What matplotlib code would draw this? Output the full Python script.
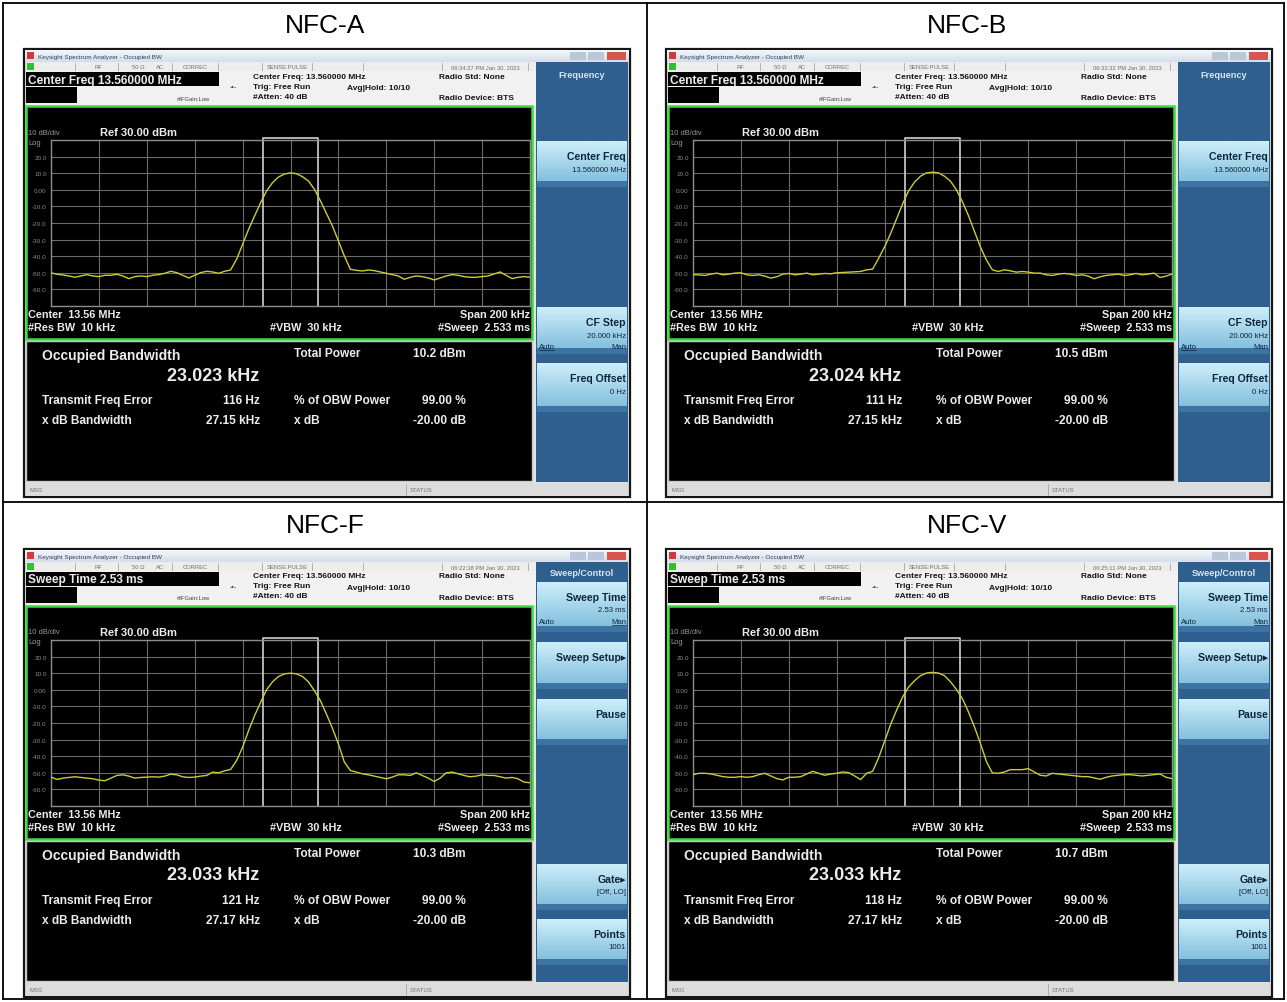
import matplotlib
matplotlib.use("Agg")
import matplotlib.pyplot as plt
from matplotlib.patches import Rectangle
import numpy as np

plt.rcParams["font.family"] = ["Liberation Sans", "DejaVu Sans"]

W, H = 1287, 1003

PANEL_TITLES = ["NFC-A", "NFC-B", "NFC-F", "NFC-V"]
PANEL_ORIGINS = [(24, 50), (666, 50), (24, 550), (666, 550)]  # top-left of each screenshot, px
TIMESTAMPS = ["06:34:27 PM Jan 30, 2023", "06:32:32 PM Jan 30, 2023",
              "06:22:38 PM Jan 30, 2023", "06:25:11 PM Jan 30, 2023"]
ACTIVE_FUNC = ["Center Freq 13.560000 MHz", "Center Freq 13.560000 MHz",
               "Sweep Time 2.53 ms", "Sweep Time 2.53 ms"]
MENUS = ["freq", "freq", "sweep", "sweep"]
TOTAL_POWER_DBM = [10.2, 10.5, 10.3, 10.7]
OBW_KHZ = [23.023, 23.024, 23.033, 23.033]
FREQ_ERROR_HZ = [116, 111, 121, 118]
XDB_BW_KHZ = [27.15, 27.15, 27.17, 27.17]

Y_TICKS_DBM = [30, 20, 10, 0, -10, -20, -30, -40, -50, -60, -70]
Y_TICK_LABELS = ["", "20.0", "10.0", "0.00", "-10.0", "-20.0", "-30.0", "-40.0", "-50.0", "-60.0", ""]
X_TICKS_KHZ = [-100, -80, -60, -40, -20, 0, 20, 40, 60, 80, 100]

# sweep points, offset from 13.56 MHz in kHz
FREQ_KHZ = [-100, -97.5, -95, -92.5, -90, -87.5, -85, -82.5, -80, -77.5,
            -75, -72.5, -70, -67.5, -65, -62.5, -60, -57.5, -55, -52.5,
            -50, -47.5, -45, -42.5, -40, -37.5, -35, -32.5, -30, -27.5,
            -25, -22.5, -20, -17.5, -15, -12.5, -10, -7.5, -5, -2.5,
            0, 2.5, 5, 7.5, 10, 12.5, 15, 17.5, 20, 22.5,
            25, 27.5, 30, 32.5, 35, 37.5, 40, 42.5, 45, 47.5,
            50, 52.5, 55, 57.5, 60, 62.5, 65, 67.5, 70, 72.5,
            75, 77.5, 80, 82.5, 85, 87.5, 90, 92.5, 95, 97.5, 100]

# levels in dBm
TRACE_A = [-50.0, -50.9, -51.3, -51.9, -52.7, -51.9, -51.1, -51.9, -52.3, -51.5,
           -51.5, -50.9, -51.9, -53.5, -52.3, -51.9, -52.3, -51.5, -51.1, -50.3,
           -49.1, -49.9, -51.5, -53.1, -51.5, -49.9, -49.1, -49.5, -50.3, -49.1,
           -48.3, -41.9, -32.9, -23.8, -15.8, -7.8, -0.7, 4.3, 7.7, 9.5,
           10.2, 9.7, 7.9, 5.3, 0.3, -6.7, -14.2, -21.8, -30.8, -39.9,
           -47.9, -48.5, -48.9, -48.3, -48.7, -49.5, -50.3, -51.1, -51.9, -53.9,
           -52.7, -51.9, -52.3, -53.1, -54.3, -53.1, -51.9, -51.1, -51.5, -52.3,
           -52.7, -52.7, -52.3, -51.9, -50.7, -49.5, -51.5, -53.5, -52.7, -52.3, -52.7]
TRACE_B = [-51.2, -51.2, -51.6, -50.8, -50.2, -51.2, -50.8, -50.2, -50.0, -51.2,
           -51.6, -51.2, -52.0, -53.2, -52.4, -50.8, -50.4, -51.2, -50.8, -50.2,
           -51.2, -50.8, -50.4, -50.6, -50.0, -49.8, -49.6, -49.4, -49.2, -48.2,
           -47.8, -41.3, -34.4, -26.4, -17.5, -8.6, -0.7, 4.7, 8.2, 10.2,
           10.6, 10.2, 8.2, 5.2, -0.1, -7.2, -15.5, -25.0, -34.4, -42.3,
           -48.2, -49.2, -48.2, -48.8, -49.6, -49.2, -49.6, -50.2, -50.2, -51.2,
           -51.6, -50.8, -50.4, -50.8, -51.6, -51.2, -52.0, -53.6, -52.4, -51.6,
           -51.2, -50.8, -51.6, -51.2, -50.4, -51.2, -50.8, -50.2, -52.8, -52.0, -50.8]
TRACE_F = [-52.6, -54.0, -53.2, -52.8, -52.4, -52.8, -53.2, -53.6, -54.4, -54.8,
           -53.2, -51.6, -51.2, -52.0, -53.2, -52.8, -52.6, -52.4, -52.6, -52.0,
           -50.8, -51.2, -52.4, -52.8, -52.6, -52.0, -51.6, -49.6, -50.0, -48.8,
           -48.0, -42.6, -34.6, -24.6, -15.6, -7.6, 0.0, 4.8, 8.0, 9.6,
           10.0, 9.6, 8.0, 4.8, -0.6, -6.6, -14.6, -23.2, -32.6, -43.6,
           -48.6, -49.6, -50.6, -51.2, -52.0, -52.8, -53.6, -52.6, -51.2, -51.2,
           -51.6, -50.0, -51.6, -53.2, -55.2, -53.2, -50.0, -49.6, -50.6, -51.6,
           -52.4, -52.0, -51.2, -51.6, -51.6, -52.4, -53.2, -52.8, -53.6, -55.6, -56.0]
TRACE_V = [-51.1, -50.3, -50.3, -50.7, -51.5, -52.3, -52.7, -52.7, -52.3, -52.7,
           -52.3, -51.1, -50.3, -51.9, -53.5, -54.3, -52.7, -52.7, -52.3, -50.7,
           -49.1, -50.3, -51.5, -50.7, -50.3, -49.5, -49.9, -51.9, -54.1, -50.3,
           -49.1, -41.0, -31.0, -20.9, -12.3, -4.4, 1.6, 5.5, 8.5, 10.1,
           10.5, 10.1, 8.5, 4.9, 0.2, -5.4, -13.3, -22.3, -32.2, -43.2,
           -50.1, -50.3, -49.5, -48.1, -48.1, -48.1, -47.5, -49.5, -51.5, -51.9,
           -50.3, -50.7, -51.1, -51.5, -51.9, -52.3, -52.3, -53.1, -53.9, -52.7,
           -51.9, -51.5, -51.1, -51.1, -51.5, -51.9, -51.5, -51.1, -50.7, -52.7, -53.5]
TRACES = [TRACE_A, TRACE_B, TRACE_F, TRACE_V]

PANEL_BLUE = "#2e5f8f"
BTN_TOP = "#cdeefa"
BTN_BOT = "#84c0de"
BTN_BAND = "#3c75a4"
TRACE_COLOR = "#cccc38"
TEXT_ON_BLACK = "#ececec"

fig = plt.figure(figsize=(W / 100, H / 100), dpi=100)
bg = fig.add_axes([0, 0, 1, 1])
bg.set_autoscale_on(False)
bg.set_xlim(0, W)
bg.set_ylim(H, 0)
bg.axis("off")


def box(x, y, w, h, fc, ec="none", lw=0, z=1):
    bg.add_patch(Rectangle((x, y), w, h, facecolor=fc, edgecolor=ec, linewidth=lw, zorder=z))


def label(x, y, s, size, color=TEXT_ON_BLACK, weight="bold", ha="left", va="center", z=6):
    bg.text(x, y, s, fontsize=size, color=color, fontweight=weight, ha=ha, va=va, zorder=z)


def gradient(x, y, w, h, c_top, c_bot, z=2):
    t = np.linspace(0, 1, 32)[:, None, None]
    a = np.array(matplotlib.colors.to_rgb(c_top))
    b = np.array(matplotlib.colors.to_rgb(c_bot))
    img = a * (1 - t) + b * t
    bg.imshow(img, extent=(x, x + w, y + h, y), aspect="auto", interpolation="bilinear", zorder=z)


def button(ox, oy, top, bottom, title, sub=None, auto_man=None, man_active=False):
    x0 = ox + 513
    gradient(x0, oy + top, 90, bottom - top - 6, BTN_TOP, BTN_BOT, z=3)
    box(x0, oy + bottom - 6, 90, 6, BTN_BAND, z=3)
    label(ox + 602, oy + top + 15, title, 7.6, color="#10253a", ha="right")
    if sub:
        label(ox + 602, oy + top + 28, sub, 5.6, color="#10253a", weight="normal", ha="right")
    if auto_man:
        yy = oy + top + 39
        label(x0 + 2, yy, auto_man[0], 5.6, color="#10253a", weight="normal")
        label(ox + 602, yy, auto_man[1], 5.6, color="#10253a", weight="normal", ha="right")
        if man_active:
            bg.plot([ox + 588, ox + 602], [yy + 4, yy + 4], color="#10253a", lw=0.5, zorder=6)
        else:
            bg.plot([x0 + 2, x0 + 17], [yy + 4, yy + 4], color="#10253a", lw=0.5, zorder=6)


def draw_panel(i):
    ox, oy = PANEL_ORIGINS[i]

    # window frame, title bar
    box(ox, oy, 606, 448, "#e3e3e3", ec="#151515", lw=1.6, z=1)
    gradient(ox + 1, oy + 1, 604, 12, "#f4f7fb", "#d3dde8")
    box(ox + 3, oy + 3, 7, 7, "#cf3b3b", z=3)
    label(ox + 14, oy + 7, "Keysight Spectrum Analyzer - Occupied BW", 4.6, color="#30405a", weight="normal")
    box(ox + 546, oy + 3, 16, 8, "#b8c8da", z=3)
    box(ox + 564, oy + 3, 16, 8, "#b8c8da", z=3)
    box(ox + 583, oy + 3, 19, 8, "#d9534f", z=3)

    # status row
    box(ox + 2, oy + 13, 510, 9, "#ededed", z=2)
    box(ox + 3, oy + 14, 7, 7, "#2fbf2f", z=3)
    for sx in [51, 94, 148, 194, 238, 288, 339, 418, 504]:
        bg.plot([ox + sx, ox + sx], [oy + 14, oy + 21], color="#a8a8a8", lw=0.6, zorder=3)
    for sx, s in [(74, "RF"), (114, "50 \u03a9"), (136, "AC"), (171, "CORREC"),
                  (263, "SENSE:PULSE"), (461, TIMESTAMPS[i])]:
        label(ox + sx, oy + 17.5, s, 4.2, color="#707070", weight="normal", ha="center")

    # measurement header
    box(ox + 2, oy + 22, 510, 35, "#f1f1f1", z=2)
    box(ox + 2, oy + 23, 193, 14, "black", z=3)
    label(ox + 4, oy + 30.5, ACTIVE_FUNC[i], 8.6, ha="left")
    box(ox + 2, oy + 38, 51, 16, "black", z=3)
    label(ox + 170, oy + 49, "#IFGain:Low", 4.2, color="#404040", weight="normal", ha="center")
    label(ox + 209, oy + 37, "-\u2022-", 5.0, color="#404040", weight="normal", ha="center")
    info = [(229, 27, "Center Freq: 13.560000 MHz"), (229, 37, "Trig: Free Run"),
            (229, 47, "#Atten: 40 dB"), (323, 38, "Avg|Hold: 10/10"),
            (415, 27, "Radio Std: None"), (415, 48, "Radio Device: BTS")]
    for sx, sy, s in info:
        label(ox + sx, oy + sy, s, 6.0, color="#151515")

    # softkey column
    box(ox + 512, oy + 13, 92, 420, PANEL_BLUE, z=2)
    if MENUS[i] == "freq":
        label(ox + 558, oy + 25, "Frequency", 6.6, color="#d5e6f4", ha="center")
        button(ox, oy, 92, 138, "Center Freq", "13.560000 MHz")
        button(ox, oy, 258, 305, "CF Step", "20.000 kHz", ("Auto", "Man"))
        button(ox, oy, 314, 363, "Freq Offset", "0 Hz")
    else:
        label(ox + 558, oy + 24, "Sweep/Control", 6.6, color="#d5e6f4", ha="center")
        button(ox, oy, 33, 83, "Sweep Time", "2.53 ms", ("Auto", "Man"), man_active=True)
        button(ox, oy, 93, 140, "Sweep Setup\u25b8")
        button(ox, oy, 150, 196, "Pause")
        button(ox, oy, 315, 361, "Gate\u25b8", "[Off, LO]")
        button(ox, oy, 370, 416, "Points", "1001")

    # trace window
    box(ox + 2, oy + 57, 506, 233, "black", ec="#3cdc3c", lw=1.8, z=2)
    label(ox + 4, oy + 83, "10 dB/div", 5.4, color="#9a9a9a", weight="normal")
    label(ox + 76, oy + 83, "Ref 30.00 dBm", 8.0)
    label(ox + 4, oy + 93, "Log", 5.4, color="#9a9a9a", weight="normal")
    label(ox + 4, oy + 265, "Center  13.56 MHz", 7.8)
    label(ox + 4, oy + 278, "#Res BW  10 kHz", 7.8)
    label(ox + 246, oy + 278, "#VBW  30 kHz", 7.8)
    label(ox + 506, oy + 265, "Span 200 kHz", 7.8, ha="right")
    label(ox + 506, oy + 278, "#Sweep  2.533 ms", 7.8, ha="right")

    ax = fig.add_axes([(ox + 27) / W, 1 - (oy + 257) / H, 479 / W, 166 / H])
    ax.set_facecolor("black")
    ax.plot(FREQ_KHZ, TRACES[i], color=TRACE_COLOR, lw=1.0, zorder=3)
    lo = FREQ_ERROR_HZ[i] / 1000 - OBW_KHZ[i] / 2
    hi = FREQ_ERROR_HZ[i] / 1000 + OBW_KHZ[i] / 2
    ax.plot([lo, lo, hi, hi], [-70, 31.2, 31.2, -70], color="#d0d0d0", lw=1.2, clip_on=False, zorder=2)
    ax.set_xlim(-100, 100)
    ax.set_ylim(-70, 30)
    ax.set_xticks(X_TICKS_KHZ)
    ax.set_xticklabels([])
    ax.set_yticks(Y_TICKS_DBM)
    ax.set_yticklabels(Y_TICK_LABELS, fontsize=4.6, color="#8a8a8a")
    ax.tick_params(length=0, pad=3)
    ax.grid(True, color="#6c6c6c", lw=0.8)
    ax.set_axisbelow(True)
    for s in ax.spines.values():
        s.set_color("#8c8c8c")
        s.set_linewidth(1.0)

    # results window
    box(ox + 2, oy + 292, 506, 140, "black", ec="#c8c8c8", lw=1.0, z=2)
    label(ox + 18, oy + 306, "Occupied Bandwidth", 10.0)
    label(ox + 235, oy + 326, f"{OBW_KHZ[i]:.3f} kHz", 13.0, ha="right")
    label(ox + 270, oy + 304, "Total Power", 8.6)
    label(ox + 442, oy + 304, f"{TOTAL_POWER_DBM[i]:.1f} dBm", 8.6, ha="right")
    label(ox + 18, oy + 351, "Transmit Freq Error", 8.6)
    label(ox + 236, oy + 351, f"{FREQ_ERROR_HZ[i]} Hz", 8.6, ha="right")
    label(ox + 270, oy + 351, "% of OBW Power", 8.6)
    label(ox + 442, oy + 351, "99.00 %", 8.6, ha="right")
    label(ox + 18, oy + 371, "x dB Bandwidth", 8.6)
    label(ox + 236, oy + 371, f"{XDB_BW_KHZ[i]:.2f} kHz", 8.6, ha="right")
    label(ox + 270, oy + 371, "x dB", 8.6)
    label(ox + 442, oy + 371, "-20.00 dB", 8.6, ha="right")

    # message bar
    box(ox + 2, oy + 434, 602, 13, "#dcdcdc", z=2)
    label(ox + 6, oy + 440.5, "MSG", 4.2, color="#707070", weight="normal")
    bg.plot([ox + 382, ox + 382], [oy + 435, oy + 446], color="#a8a8a8", lw=0.6, zorder=3)
    label(ox + 386, oy + 440.5, "STATUS", 4.2, color="#707070", weight="normal")


# table grid
for x in [3, 647, 1284]:
    bg.plot([x, x], [4, 1000], color="black", lw=1.3, zorder=10)
for y in [4, 503, 1000]:
    bg.plot([3, 1284], [y, y], color="black", lw=1.3, zorder=10)

for i in range(4):
    ox, oy = PANEL_ORIGINS[i]
    label(ox + 301, oy - 24, PANEL_TITLES[i], 19, color="black", weight="normal", ha="center")
    draw_panel(i)

bg.set_xlim(0, W)
bg.set_ylim(H, 0)
fig.savefig("out.png", dpi=100, facecolor="white")
